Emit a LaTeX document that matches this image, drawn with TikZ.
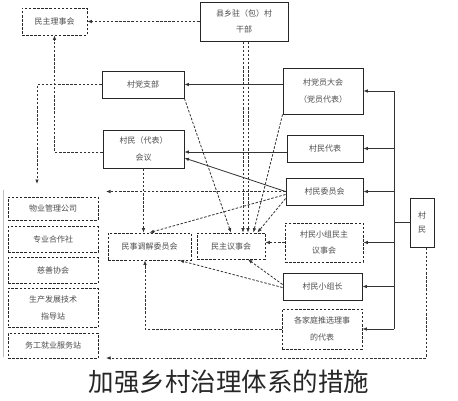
\documentclass[tikz,border=0pt]{standalone}
\usepackage{fontspec}
\usepackage{tikz}
\usetikzlibrary{arrows.meta,positioning}
\newfontfamily\cjk{Noto Sans CJK SC}
\tikzset{
  sbox/.style={draw=black!85, line width=0.9pt, align=center, font=\cjk\fontsize{8}{16.5}\selectfont, text=black!70, inner sep=1pt},
  dbox/.style={sbox, line width=0.8pt, dash pattern=on 2.5pt off 1.6pt},
  farr/.style={-{Latex[length=4.5pt,width=3.6pt]}, line width=0.8pt, draw=black!80},
  darr/.style={farr, dash pattern=on 2.5pt off 1.6pt}
}

\begin{document}
\begin{tikzpicture}[x=1pt, y=-1pt]
\useasboundingbox (0,0) rectangle (458,400);
% top row
\node[dbox, minimum width=65pt, minimum height=27pt] (lsh) at (54.5,21.5) {民主理事会};
\node[sbox, minimum width=88pt, minimum height=39pt] (xg) at (244,21.5) {县乡驻（包）村\\干部};
% party and villagers' meeting
\node[sbox, minimum width=82pt, minimum height=27pt] (zb) at (143,84.5) {村党支部};
\node[sbox, minimum width=81pt, minimum height=38pt] (hy) at (143.5,149) {村民（代表）\\会议};
% right column
\node[sbox, minimum width=80pt, minimum height=46pt] (dy) at (323,91) {村党员大会\\（党员代表）};
\node[sbox, minimum width=76pt, minimum height=27pt] (db) at (325,148.5) {村民代表};
\node[sbox, minimum width=77pt, minimum height=27pt] (wh) at (324.5,191.5) {村民委员会};
\node[dbox, minimum width=78pt, minimum height=39pt] (xz) at (324,242.5) {村民小组民主\\议事会};
\node[sbox, minimum width=79pt, minimum height=27pt] (zz) at (322.5,286.5) {村民小组长};
\node[dbox, minimum width=80pt, minimum height=40pt] (jt) at (322,329) {各家庭推选理事\\的代表};
\node[sbox, minimum width=24pt, minimum height=49pt] (cm) at (422,222.5) {村\\[-2pt]民};
% middle row
\node[dbox, minimum width=83pt, minimum height=27pt] (tj) at (149.5,246.5) {民事调解委员会};
\node[dbox, minimum width=68pt, minimum height=26pt] (ys) at (231,246) {民主议事会};
% left column
\node[dbox, minimum width=90pt, minimum height=23pt] (wy) at (53,208.5) {物业管理公司};
\node[dbox, minimum width=90pt, minimum height=26pt, below=6pt of wy] (hz) {专业合作社};
\node[dbox, minimum width=90pt, minimum height=26pt, below=4pt of hz] (cs) {慈善协会};
\node[dbox, minimum width=90pt, minimum height=39pt, below=4pt of cs] (jd) {生产发展技术\\指导站};
\node[dbox, minimum width=90pt, minimum height=25pt, below=5pt of jd] (wg) {务工就业服务站};
\draw[black!25, line width=0.6pt] (3,190) -- (3,357);
% caption
\node[font=\cjk\fontsize{25.5}{28}\selectfont, text=black!85] (title) at (229,382) {加强乡村治理体系的措施};

% villagers trunk
\coordinate (trT) at (394,91);
\coordinate (trB) at (394,329);
\draw[line width=0.8pt, draw=black!80] (trT) -- (trB);
\draw[line width=0.8pt, draw=black!80] (cm.west) -- (cm.west -| trT);
\foreach \n in {dy,db,wh,xz,zz,jt} \draw[farr] (\n.east -| trT) -- (\n.east);

% solid links
\draw[farr] (dy.west |- zb.east) -- (zb.east);
\draw[farr] (db.west |- 0,152) -- (hy.east |- 0,152);
\draw[farr] (wh.west) -- ([yshift=-9pt]hy.east);

% dashed links
\coordinate (lcolT) at (37,184);
\coordinate (lcolR) at (106,192);
\coordinate (lcolB) at (106,358);
\draw[darr] (xg.west) -- (lsh.east);
\draw[darr] ([xshift=-1pt]xg.south) -- ([xshift=12pt]ys.north);
\draw[darr] ([xshift=4pt]xg.south) -- ([xshift=17pt]ys.north);
\draw[darr] (zb.west) -| (lcolT);
\draw[darr] (hy.west |- 0,152) -| (lsh.south);
\draw[darr] (hy.south) -- (hy.south |- tj.north);
\draw[darr] (zb.south east) -- (ys.north);
\draw[darr] (dy.south west) -- ([xshift=-12pt]ys.north east);
\draw[darr] (wh.west) -- (wh.west -| lcolR);
\draw[darr] ([yshift=-3pt]wh.west) -- (tj.north);
\draw[darr] ([yshift=-7pt]wh.west) -- ([xshift=-8pt]ys.north east);
\draw[darr] (xz.west) -- (xz.west -| ys.east);
\draw[darr] ([yshift=2pt]zz.west) -- ([xshift=17pt]ys.south);
\draw[darr] ([yshift=-1pt]zz.west) -- ([xshift=30pt]tj.south);
\draw[darr] (jt.west) -| ([xshift=-4.5pt]tj.south);
\draw[darr] ([xshift=4pt]cm.south) |- (lcolB);
\end{tikzpicture}
\end{document}
